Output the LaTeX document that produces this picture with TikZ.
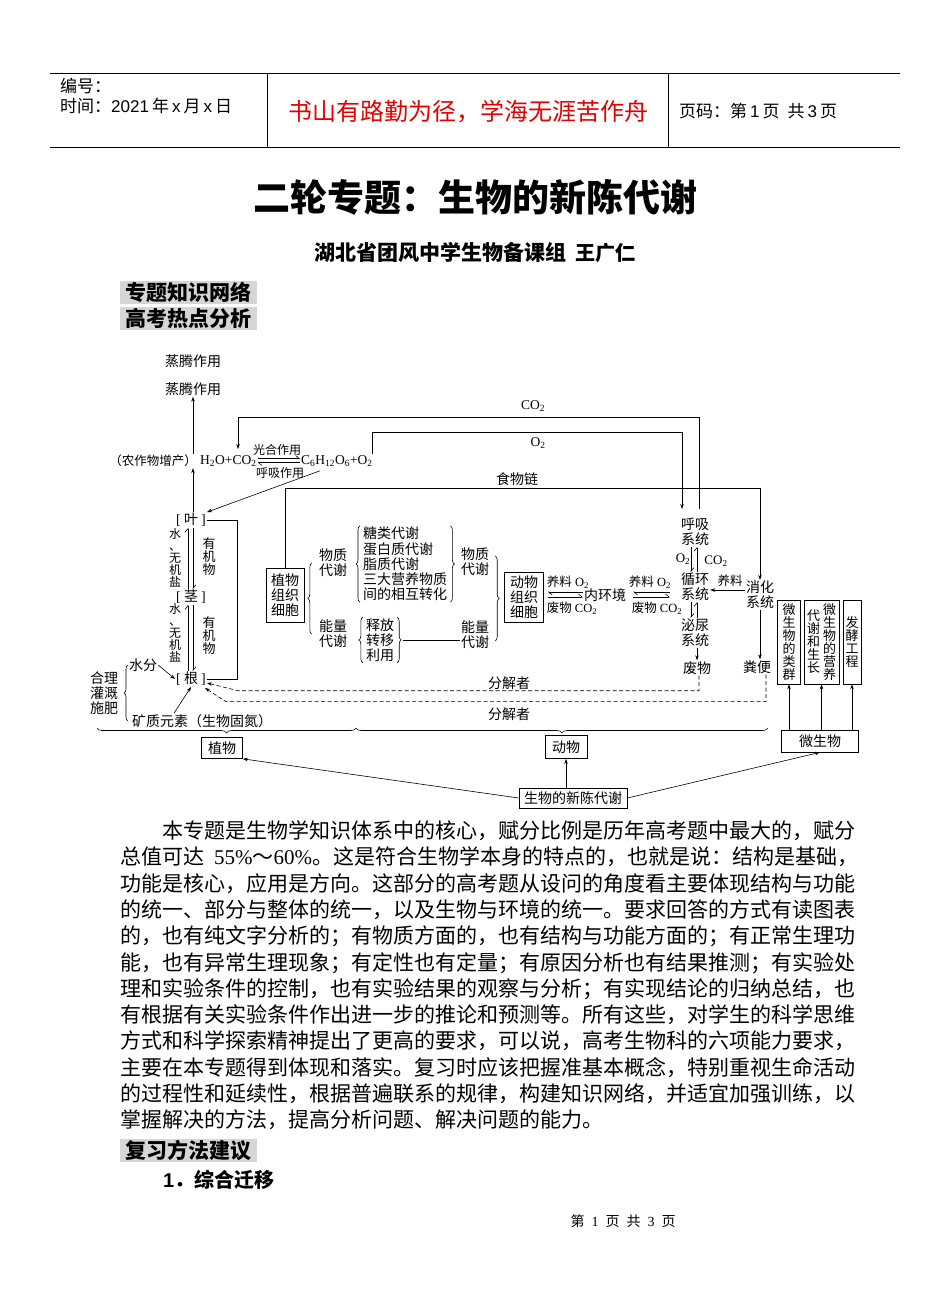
\documentclass[tikz,border=0pt]{standalone}
\usepackage{fontspec}
\setmainfont{Noto Sans CJK SC}
\newfontfamily\tnr{Liberation Serif}
\newfontfamily\arl{Liberation Sans}
\usetikzlibrary{arrows.meta, positioning, calc, decorations.pathreplacing}
\XeTeXlinebreaklocale "zh"
\XeTeXlinebreakskip=0pt plus 1pt
\newcommand{\fsz}[2]{\fontsize{#1}{#2}\selectfont}
\newcommand{\dn}[1]{\textsubscript{#1}}

\begin{document}
\begin{tikzpicture}[
    x=1pt, y=-1pt,
    rule/.style={line width=0.9pt},
    ln/.style={line width=0.6pt},
    lbl/.style={font=\fsz{14}{15}, inner sep=1pt, align=center},
    sml/.style={font=\fsz{12.5}{14}, inner sep=1pt},
    chem/.style={inner sep=1pt, font={\tnr\fsz{13.5}{15}}},
    vtx/.style={font=\fsz{13}{13}, inner sep=0pt, align=center},
    box/.style={lbl, draw, line width=0.7pt},
    tallbox/.style={vtx, draw, line width=0.7pt, minimum height=84pt},
    arr/.style={-{Stealth[length=5pt, width=3.5pt]}, line width=0.6pt},
    hpr/.style={-{Straight Barb[harpoon, length=3.5pt, width=6pt]}, line width=0.6pt},
    dsh/.style={arr, dash pattern=on 4pt off 2.5pt},
    brc/.style={decorate, decoration={brace, amplitude=4pt}, line width=0.6pt},
    body/.style={font=\fsz{21}{26}, inner sep=0pt, anchor=west},
    graybar/.style={fill=black!16, font=\fsz{21}{24}\bfseries, minimum width=137pt, minimum height=23pt, inner sep=0pt, anchor=west}
]
\fill[white] (0,0) rectangle (950,1316);
\useasboundingbox (0,0) rectangle (950,1316);

% ===== HEADER =====
\draw[rule] (50,73) -- (900,73);
\draw[rule] (50,147) -- (900,147);
\draw[rule] (267,73) -- (267,147);
\draw[rule] (668,73) -- (668,147);
\node[anchor=west, font=\fsz{17}{19}, inner sep=0pt] (bianhao) at (60,86) {编号：};
\node[anchor=west, font=\fsz{17}{19}, inner sep=0pt] (shijian) at (60,106) {时间：{\arl 2021}\hspace{3pt}年\hspace{3pt}{\arl x}\hspace{3pt}月\hspace{3pt}{\arl x}\hspace{3pt}日};
\node[font=\fsz{24}{26}, text=red!90!black, inner sep=0pt] (motto) at (468,112) {书山有路勤为径，学海无涯苦作舟};
\node[anchor=west, font=\fsz{17}{19}, inner sep=0pt] (yema) at (679,111) {页码：第\hspace{3pt}{\arl 1}\hspace{3pt}页\hspace{8pt}共\hspace{3pt}{\arl 3}\hspace{3pt}页};

% ===== TITLE =====
\node[font=\fsz{37}{40}\bfseries] (title) at (475,197) {二轮专题：生物的新陈代谢};
\node[font=\fsz{21}{23}\bfseries] (author) at (475,253) {湖北省团风中学生物备课组\ \ {\fsz{20}{22}王广仁}};
\node[graybar] (zsww) at (120,292) {专题知识网络};
\node[graybar] (rdfx) at (120,318) {高考热点分析};

% ===== PLANT COLUMN =====
\node[lbl] (zt1) at (193,361) {蒸腾作用};
\node[lbl] (zt2) at (193,389) {蒸腾作用};
\node[lbl, font=\fsz{12.5}{14}, anchor=east] (zengchan) at (198,461) {（农作物增产）};
\node[chem, anchor=west] (h2o) at (199,461) {H\dn{2}O+CO\dn{2}};
\node[sml, font=\fsz{12}{13}] (guanghe) at (277,450) {光合作用};
\node[sml, font=\fsz{12}{13}] (huxi) at (280,473) {呼吸作用};
\node[chem, anchor=west] (c6) at (300,461) {C\dn{6}H\dn{12}O\dn{6}+O\dn{2}};
\coordinate (co2in) at (238,449);

\node[lbl] (ye) at (191,520) {{\tnr[}\ 叶\ {\tnr]}};
\node[lbl] (jing) at (191,597) {{\tnr[}\ 茎\ {\tnr]}};
\node[lbl] (gen) at (191,679) {{\tnr[}\ 根\ {\tnr]}};
\node[vtx, font=\fsz{12}{12}] (wj1) at (175,558) {水\\、\\无\\机\\盐};
\node[vtx] (yj1) at (209,557) {有\\机\\物};
\node[vtx, font=\fsz{12}{12}] (wj2) at (175,633) {水\\、\\无\\机\\盐};
\node[vtx] (yj2) at (209,636) {有\\机\\物};
\node[lbl] (shuifen) at (143,665) {水分};
\node[lbl, anchor=west] (kuangzhi) at (131,721) {矿质元素（生物固氮）};
\node[lbl] (heli) at (104,693) {合理\\灌溉\\施肥};

% ===== METABOLISM =====
\node[box, minimum width=38pt, minimum height=54pt, inner sep=2pt] (zwz) at (285,595) {植物\\组织\\细胞};
\node[lbl] (wz1) at (333,563) {物质\\代谢};
\node[lbl] (nl1) at (333,634) {能量\\代谢};
\node[lbl, anchor=west, align=left, font=\fsz{14}{15.2}] (lst) at (362,564) {糖类代谢\\蛋白质代谢\\脂质代谢\\三大营养物质\\间的相互转化};
\node[lbl] (sfz) at (380,640) {释放\\转移\\利用};
\node[lbl] (wz2) at (475,562) {物质\\代谢};
\node[lbl] (nl2) at (475,635) {能量\\代谢};
\node[box, minimum width=39pt, minimum height=50pt, inner sep=2pt] (dwz) at (524,597) {动物\\组织\\细胞};

\node[sml] (yl1) at (568,582) {养料{\tnr\ O\dn{2}}};
\node[sml] (fw1) at (572,608) {废物{\tnr\ CO\dn{2}}};
\node[lbl] (nhj) at (605,595) {内环境};
\node[sml] (yl2) at (650,582) {养料{\tnr\ O\dn{2}}};
\node[sml] (fw2) at (657,608) {废物{\tnr\ CO\dn{2}}};

% ===== ANIMAL SYSTEMS =====
\node[lbl] (hx) at (695,532) {呼吸\\系统};
\node[lbl] (xh) at (695,587) {循环\\系统};
\node[lbl] (mn) at (695,633) {泌尿\\系统};
\node[lbl] (fw) at (697,668) {废物};
\node[lbl] (xhx) at (760,595) {消化\\系统};
\node[lbl] (fb) at (757,667) {粪便};
\node[sml] (yl3) at (730,581) {养料};
\node[sml, font={\tnr\fsz{13}{14}}] (o2a) at (683,559) {O\dn{2}};
\node[sml, font={\tnr\fsz{13}{14}}] (co2a) at (716,561) {CO\dn{2}};

% top labels
\node[chem] (co2lab) at (533,406) {CO\dn{2}};
\node[chem] (o2lab) at (538,443) {O\dn{2}};
\node[lbl] (swl) at (517,479) {食物链};
\node[lbl] (fjz1) at (509,683) {分解者};
\node[lbl] (fjz2) at (509,714) {分解者};

% ===== BOTTOM =====
\node[box, minimum width=41pt, minimum height=21pt] (zw) at (222,748) {植物};
\node[box, minimum width=42pt, minimum height=23pt] (dw) at (566,747) {动物};
\node[box, minimum width=77pt, minimum height=22pt] (wsw) at (820,741) {微生物};
\node[box, minimum width=108pt, minimum height=20pt] (xcdx) at (573,798) {生物的新陈代谢};
\node[tallbox, minimum width=23pt] (lq) at (789,642) {微\\生\\物\\的\\类\\群};
\node[tallbox, minimum width=35pt] (yy) at (821.5,642) {};
\node[vtx] (yyr) at ([xshift=8pt]yy.center) {微\\生\\物\\的\\营\\养};
\node[vtx] (yyl) at ([xshift=-8pt]yy.center) {代\\谢\\和\\生\\长};
\node[tallbox, minimum width=18pt] (fj) at (852,642) {发\\酵\\工\\程};

% ===== CONNECTIONS =====
\draw[arr] ([xshift=-5pt]zengchan.north east) -- (zt2.south);
\draw[arr] ([xshift=2pt]ye.north) -- ([xshift=-5pt]zengchan.south east);
\draw[hpr] ([yshift=2.5pt]h2o.east) -- ([yshift=2.5pt]c6.west);
\draw[hpr] ([yshift=-1.5pt]c6.west) -- ([yshift=-1.5pt]h2o.east);
\draw[arr] ([xshift=20pt, yshift=-3pt]c6.south west) -- (ye.north east);

% CO2 and O2 loops
\draw[arr] ([xshift=4pt, yshift=8pt]hx.north) -- ++(0,-92) -| (co2in);
\draw[arr] ([xshift=-2pt]c6.north east) -- ++(0,-22) -| ([xshift=-13pt, yshift=8pt]hx.north);

% food chain
\draw[arr] (zwz.north) -- ++(0,-79) -| (xhx.north);

% stem transport
\draw[hpr] ([xshift=-3pt]jing.north) -- ([xshift=-3pt]ye.south);
\draw[hpr] ([xshift=2pt]ye.south) -- ([xshift=2pt]jing.north);
\draw[hpr] ([xshift=-3pt]gen.north) -- ([xshift=-3pt]jing.south);
\draw[hpr] ([xshift=2pt]jing.south) -- ([xshift=2pt]gen.north);
\draw[ln] (ye.east) -- ++(30,0) |- (gen.east);
\draw[arr] (shuifen.east) -- (gen.west);
\draw[arr] ([xshift=43pt]kuangzhi.north west) -- (gen.south);

% decomposers
\draw[dsh] ([xshift=2pt]fw.south) -- ++(0,15) -- ++(-461,0) -- ([yshift=-4pt]gen.east);
\draw[dsh] ([xshift=9pt]fb.south) -- ++(0,27) -- ++(-540,0) -- ([xshift=-2pt, yshift=-9pt]gen.east);

% braces
\draw[brc] ($(kuangzhi.west)+(-3,0)$) -- ($(kuangzhi.west |- shuifen.center)+(-3,0)$);
\draw[brc] ($(nl1.west)+(-6,0)$) -- ($(wz1.west)+(-6,0)$);
\draw[brc] ([xshift=-2pt]lst.south west) -- ([xshift=-2pt]lst.north west);
\draw[brc] ([xshift=2pt]lst.north east) -- ([xshift=2pt]lst.south east);
\draw[brc] ([xshift=-2pt]sfz.south west) -- ([xshift=-2pt]sfz.north west);
\draw[brc] ([xshift=2pt]sfz.north east) -- ([xshift=2pt]sfz.south east);
\draw[ln] ([xshift=8pt]sfz.east) -- (nl2.west |- sfz.east);
\draw[brc] ($(wz2.east)+(5,-6)$) -- ($(nl2.east)+(5,6)$);
\draw[brc, decoration={amplitude=5pt}] (356,728) -- (97,728);
\draw[brc, decoration={amplitude=5pt}] (768,728) -- (356,728);

% exchange with inner environment
\draw[hpr] ([yshift=3pt]nhj.west) -- ([yshift=5pt, xshift=4pt]dwz.east);
\draw[hpr] ([yshift=0pt, xshift=4pt]dwz.east) -- ([yshift=-2pt]nhj.west);
\draw[hpr] ([xshift=-10pt, yshift=-5pt]xh.west) -- ([xshift=6pt, yshift=3pt]nhj.east);
\draw[hpr] ([xshift=6pt, yshift=-2pt]nhj.east) -- ([xshift=-10pt, yshift=-10pt]xh.west);
\draw[hpr] ([xshift=-4pt]hx.south) -- ([xshift=-4pt]xh.north);
\draw[hpr] ([xshift=2pt]xh.north) -- ([xshift=2pt]hx.south);
\draw[hpr] ([xshift=-4pt]xh.south) -- ([xshift=-4pt]mn.north);
\draw[hpr] ([xshift=2pt]mn.north) -- ([xshift=2pt]xh.south);
\draw[arr] (mn.south -| fw.north) -- (fw.north);
\draw[arr] ([yshift=-3pt]xhx.west |- xh.east) -- ([yshift=-3pt]xh.east);
\draw[arr] (xhx.south) -- (xhx.south |- fb.north);

% bottom arrows
\draw[arr] (xcdx.west) -- (zw.south east);
\draw[arr] (xcdx.north -| dw.south) -- (dw.south);
\draw[arr] (xcdx.east) -- (wsw.south);
\draw[arr] (wsw.north -| lq.south) -- (lq.south);
\draw[arr] (wsw.north -| yy.south) -- (yy.south);
\draw[arr] (wsw.north -| fj.south) -- (fj.south);

% ===== BODY TEXT =====
\node[body] (p1) at (162,831) {\makebox[696pt][s]{本专题是生物学知识体系中的核心，赋分比例是历年高考题中最大的，赋分}};
\node[body] (p2) at (120,857) {\makebox[738pt][s]{总值可达 {\tnr 55\%}～{\tnr 60\%}。这是符合生物学本身的特点的，也就是说：结构是基础，}};
\node[body] (p3) at (120,884) {\makebox[738pt][s]{功能是核心，应用是方向。这部分的高考题从设问的角度看主要体现结构与功能}};
\node[body] (p4) at (120,910) {\makebox[738pt][s]{的统一、部分与整体的统一，以及生物与环境的统一。要求回答的方式有读图表}};
\node[body] (p5) at (120,936) {\makebox[738pt][s]{的，也有纯文字分析的；有物质方面的，也有结构与功能方面的；有正常生理功}};
\node[body] (p6) at (120,963) {\makebox[738pt][s]{能，也有异常生理现象；有定性也有定量；有原因分析也有结果推测；有实验处}};
\node[body] (p7) at (120,989) {\makebox[738pt][s]{理和实验条件的控制，也有实验结果的观察与分析；有实现结论的归纳总结，也}};
\node[body] (p8) at (120,1015) {\makebox[738pt][s]{有根据有关实验条件作出进一步的推论和预测等。所有这些，对学生的科学思维}};
\node[body] (p9) at (120,1041) {\makebox[738pt][s]{方式和科学探索精神提出了更高的要求，可以说，高考生物科的六项能力要求，}};
\node[body] (p10) at (120,1068) {\makebox[738pt][s]{主要在本专题得到体现和落实。复习时应该把握准基本概念，特别重视生命活动}};
\node[body] (p11) at (120,1094) {\makebox[738pt][s]{的过程性和延续性，根据普遍联系的规律，构建知识网络，并适宜加强训练，以}};
\node[body] (p12) at (120,1120) {掌握解决的方法，提高分析问题、解决问题的能力。};

\node[graybar] (fxjy) at (120,1150) {复习方法建议};
\node[anchor=west, font=\fsz{20}{22}\bfseries, inner sep=0pt] (zhqy) at (163,1180) {{\arl 1}．综合迁移};

% ===== FOOTER =====
\node[font=\fsz{14}{16}, inner sep=0pt] (footer) at (623,1221) {第\hspace{7pt}{\tnr 1}\hspace{7pt}页\hspace{7pt}共\hspace{7pt}{\tnr 3}\hspace{7pt}页};

\end{tikzpicture}
\end{document}
